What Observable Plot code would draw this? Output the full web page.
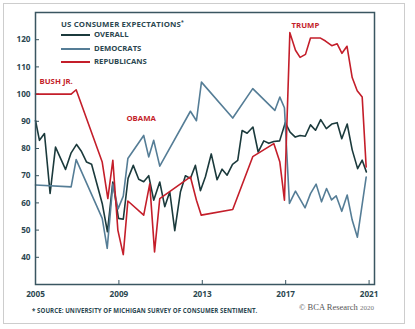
<!DOCTYPE html>
<html>
<head>
<meta charset="utf-8">
<script src="https://cdn.jsdelivr.net/npm/d3@7"></script>
<script src="https://cdn.jsdelivr.net/npm/@observablehq/plot@0.6"></script>
<style>
  html, body { margin: 0; padding: 0; background: #fff; }
  #wrap { position: relative; width: 415px; height: 329px; overflow: hidden; font-family: "Open Sans", sans-serif; }
  #border { position: absolute; left: 3px; top: 3px; width: 402px; height: 321px; box-sizing: border-box; border: 1px solid #cdcdcd; }
  #chart { position: absolute; left: 0; top: 0; }
  .lbl { position: absolute; font-weight: 700; color: #2b4750; white-space: nowrap; line-height: 1; }
  .sw { position: absolute; height: 2px; width: 29px; }
</style>
</head>
<body>
<div id="wrap">
  <div id="border"></div>
  <div id="chart"></div>
  <div class="lbl" style="left:61px; top:20px; font-size:7.8px; letter-spacing:0.15px;">US CONSUMER EXPECTATIONS<sup style="font-size:5px; vertical-align:3px;">*</sup></div>
  <div class="sw" style="left:61px; top:34px; background:#1b3a3c;"></div>
  <div class="lbl" style="left:94px; top:31px; font-size:7.7px;">OVERALL</div>
  <div class="sw" style="left:61px; top:48px; background:#557d96;"></div>
  <div class="lbl" style="left:94px; top:45px; font-size:7.7px;">DEMOCRATS</div>
  <div class="sw" style="left:61px; top:61px; background:#c41e2a;"></div>
  <div class="lbl" style="left:94px; top:58px; font-size:7.7px;">REPUBLICANS</div>
  <div class="lbl" style="left:32px; top:308px; font-size:6.1px; letter-spacing:0.08px;">* SOURCE: UNIVERSITY OF MICHIGAN SURVEY OF CONSUMER SENTIMENT.</div>
  <div class="lbl" style="left:299px; top:303px; font-size:8.5px; font-weight:400; color:#555; font-family:'Liberation Serif', serif;">© BCA Research <span style="font-size:7px; color:#777;">2020</span></div>
</div>
<script>
// Year labels on the x axis and value ticks on the y axis
const xTicks = [2005, 2009, 2013, 2017, 2021];
const yTicks = [40, 50, 60, 70, 80, 90, 100, 110, 120];

// Series: [decimal year, index value]
const overall = [
  [2005.00, 90.3], [2005.19, 83.0], [2005.43, 85.5], [2005.70, 63.5], [2005.96, 80.5],
  [2006.44, 72.3], [2006.71, 78.4], [2006.97, 81.5], [2007.19, 79.1], [2007.45, 75.0],
  [2007.69, 74.2], [2008.20, 59.8], [2008.45, 49.4], [2008.71, 67.7], [2008.98, 54.3],
  [2009.21, 54.0], [2009.44, 69.0], [2009.69, 73.8], [2009.95, 68.7], [2010.19, 67.8],
  [2010.43, 70.0], [2010.67, 61.0], [2010.96, 67.7], [2011.20, 58.6], [2011.44, 64.1],
  [2011.68, 49.8], [2011.95, 64.0], [2012.19, 70.0], [2012.43, 69.0], [2012.67, 73.8],
  [2012.91, 64.5], [2013.15, 69.6], [2013.43, 78.0], [2013.71, 68.5], [2013.95, 72.4],
  [2014.19, 70.2], [2014.45, 74.2], [2014.70, 75.6], [2014.91, 86.6], [2015.15, 85.6],
  [2015.43, 87.9], [2015.68, 78.7], [2015.95, 82.8], [2016.19, 81.9], [2016.43, 82.6],
  [2016.71, 82.8], [2016.98, 89.5], [2017.21, 86.0], [2017.46, 84.2], [2017.69, 84.8],
  [2017.94, 84.5], [2018.19, 88.7], [2018.43, 86.7], [2018.68, 90.6], [2018.95, 87.3],
  [2019.21, 89.0], [2019.47, 89.5], [2019.69, 83.6], [2019.95, 89.0], [2020.19, 79.5],
  [2020.45, 72.6], [2020.67, 75.7], [2020.87, 71.4]
];

const democrats = [
  [2005.00, 66.6], [2006.71, 65.9], [2006.95, 75.9], [2008.20, 54.3], [2008.44, 43.3],
  [2008.71, 66.9], [2008.96, 57.8], [2009.21, 62.5], [2009.43, 76.3], [2010.19, 84.8],
  [2010.43, 76.9], [2010.67, 83.0], [2010.96, 73.5], [2012.43, 93.7], [2012.72, 90.2],
  [2012.96, 104.4], [2014.46, 91.2], [2015.42, 102.0], [2016.48, 94.0], [2016.72, 98.9],
  [2016.94, 95.0], [2017.18, 59.8], [2017.47, 64.3], [2017.93, 58.2], [2018.19, 63.4],
  [2018.46, 66.9], [2018.72, 60.4], [2018.96, 65.3], [2019.20, 61.1], [2019.42, 62.6],
  [2019.69, 56.9], [2019.95, 62.9], [2020.19, 53.7], [2020.44, 47.4], [2020.86, 69.5]
];

const republicans = [
  [2005.00, 100.0], [2006.71, 100.0], [2006.95, 101.6], [2008.20, 75.0], [2008.47, 61.6],
  [2008.71, 75.7], [2008.95, 50.0], [2009.21, 41.0], [2009.43, 60.7], [2010.19, 55.5],
  [2010.48, 67.0], [2010.71, 42.0], [2010.96, 61.6], [2012.43, 69.6], [2012.72, 61.0],
  [2012.95, 55.5], [2014.46, 57.6], [2015.42, 77.0], [2016.43, 81.8], [2016.72, 75.0],
  [2016.94, 61.0], [2017.20, 122.6], [2017.47, 116.1], [2017.69, 113.5], [2017.95, 114.6],
  [2018.19, 120.6], [2018.67, 120.6], [2018.91, 119.5], [2019.21, 117.8], [2019.47, 118.5],
  [2019.70, 115.0], [2019.94, 117.6], [2020.19, 106.1], [2020.43, 101.2], [2020.67, 98.9],
  [2020.86, 73.2]
];

const presidents = ["BUSH JR.", "OBAMA", "TRUMP"];

const C_OVERALL = "#1b3a3c", C_DEM = "#557d96", C_REP = "#c41e2a", C_AXIS = "#3a5661";
const W = 415, H = 329, mL = 35, mR = 41, mT = 12, mB = 45;
const plotW = W - mL - mR, plotH = H - mT - mB;

const chart = Plot.plot({
  width: W, height: H,
  marginLeft: mL, marginRight: mR, marginTop: mT, marginBottom: mB,
  style: { fontFamily: "Open Sans, sans-serif", fontSize: "8.2px", fontWeight: 700, color: "#2b4750", background: "transparent" },
  x: { domain: [2005, 2021.26] },
  y: { domain: [30, 130] },
  marks: [
    Plot.axisX({ ticks: xTicks, tickFormat: d => String(d), tickSize: 0, tickPadding: 7, label: null, fontWeight: 700 }),
    Plot.axisY({ ticks: yTicks, tickSize: 0, tickPadding: 5, label: null, fontWeight: 700 }),
    Plot.tickX(xTicks, { x: d => d, insetTop: plotH - 4, stroke: C_AXIS, strokeWidth: 1 }),
    Plot.tickY(yTicks, { y: d => d, insetRight: plotW - 4, stroke: C_AXIS, strokeWidth: 1 }),
    Plot.line(overall, { x: d => d[0], y: d => d[1], stroke: C_OVERALL, strokeWidth: 1.6 }),
    Plot.line(democrats, { x: d => d[0], y: d => d[1], stroke: C_DEM, strokeWidth: 1.6 }),
    Plot.line(republicans, { x: d => d[0], y: d => d[1], stroke: C_REP, strokeWidth: 1.6 }),
    Plot.text([presidents[0]], { x: 2005.19, y: 104.6, text: d => d, textAnchor: "start", fill: C_REP, fontSize: 7.8, fontWeight: 700 }),
    Plot.text([presidents[1]], { x: 2009.36, y: 91.1, text: d => d, textAnchor: "start", fill: C_REP, fontSize: 7.8, fontWeight: 700 }),
    Plot.text([presidents[2]], { x: 2017.28, y: 125.1, text: d => d, textAnchor: "start", fill: C_REP, fontSize: 7.8, fontWeight: 700 }),
    Plot.frame({ stroke: C_AXIS, strokeWidth: 1.5 })
  ]
});
document.getElementById("chart").appendChild(chart);
</script>
</body>
</html>
